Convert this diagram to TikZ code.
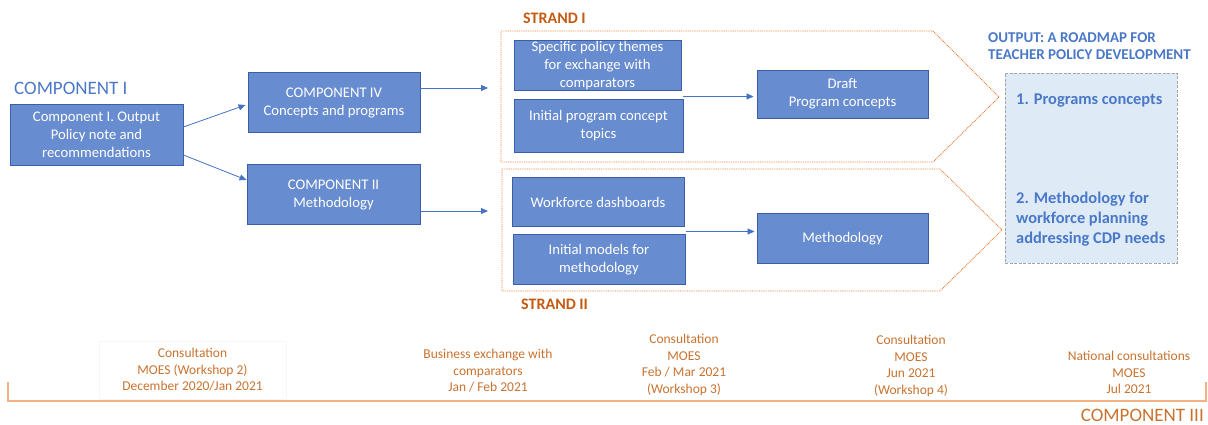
\documentclass[tikz,border=0pt]{standalone}
\usepackage{fontspec}
\setmainfont{Carlito}
\usetikzlibrary{arrows.meta,calc}
\definecolor{boxfill}{HTML}{688CD0}
\definecolor{boxline}{HTML}{3A5FA8}
\definecolor{arrowblue}{HTML}{4472C4}
\definecolor{titleblue}{HTML}{4A78C8}
\definecolor{strandorange}{HTML}{C55A11}
\definecolor{dotorange}{HTML}{ED7D31}
\definecolor{lineorange}{HTML}{F4B183}
\definecolor{timeorange}{HTML}{C8722F}
\definecolor{outfill}{HTML}{DEEBF7}
\definecolor{outline}{HTML}{A5A5A5}
\tikzset{
  x=1pt, y=-1pt,
  bluebox/.style={draw=boxline, line width=0.9pt, fill=boxfill, text=white,
    align=center, inner sep=0pt,
    font=\fontsize{14.7}{18}\selectfont},
  flow/.style={draw=arrowblue, line width=0.8pt,
    -{Triangle[length=7pt,width=6pt]}},
  strandframe/.style={draw=dotorange, line width=0.9pt,
    dash pattern=on 0.9pt off 0.9pt},
  strandlabel/.style={text=strandorange, anchor=west, inner sep=0pt,
    font=\fontsize{16}{19}\selectfont\bfseries},
  timetext/.style={text=timeorange, align=center, inner sep=0pt,
    font=\fontsize{13.5}{16.5}\selectfont},
  bigblue/.style={text=titleblue, inner sep=0pt,
    font=\fontsize{19}{22}\selectfont},
  outtext/.style={text=titleblue, anchor=west, align=left, inner sep=0pt,
    font=\fontsize{16.4}{20}\selectfont\bfseries},
}
\begin{document}
\begin{tikzpicture}
\useasboundingbox (0,0) rectangle (1208,425);

% ---- left column ----
\node[bigblue, anchor=west] (lblc1) at (14,88) {COMPONENT I};
\node[bluebox, minimum width=173pt, minimum height=61pt] (c1) at (96.5,135)
  {Component I. Output\\Policy note and\\recommendations};
\node[bluebox, minimum width=172pt, minimum height=60pt] (c4) at (334,102.5)
  {COMPONENT IV\\Concepts and programs};
\node[bluebox, minimum width=173pt, minimum height=60pt] (c2) at (333.5,194.5)
  {COMPONENT II\\Methodology};

\draw[flow] ($(c1.east)+(0,-8)$) -- ($(c4.west)+(-2,2.5)$);
\draw[flow] ($(c1.east)+(0,20)$) -- ($(c2.west)+(0,-14.5)$);

% ---- strand frames ----
\draw[strandframe] (501,31) -- (933,31) -- (999,97) -- (933,162) -- (501,162) -- cycle;
\draw[strandframe] (502,169) -- (940,169) -- (1002,230) -- (940,291) -- (502,291) -- cycle;
\node[strandlabel] (lbls1) at (523,18) {STRAND I};
\node[strandlabel] (lbls2) at (521,304) {STRAND II};

\coordinate (s1in) at (488,88);
\coordinate (s2in) at (488,211);
\draw[flow] (c4.east |- s1in) -- (s1in);
\draw[flow] (c2.east |- s2in) -- (s2in);

% ---- strand I ----
\node[bluebox, minimum width=167pt, minimum height=50pt] (s1a) at (597.5,65.5)
  {Specific policy themes\\for exchange with\\comparators};
\node[bluebox, minimum width=169pt, minimum height=53pt] (s1b) at (598.5,126)
  {Initial program concept\\topics};
\node[bluebox, minimum width=171pt, minimum height=48pt] (s1c) at (842.5,94)
  {Draft\\Program concepts};
\coordinate (s1mid) at ($(s1a.south east)!0.5!(s1b.north east)+(1,1.5)$);
\draw[flow] (s1mid) -- ($(s1c.west |- s1mid)+(-3,0)$);

% ---- strand II ----
\node[bluebox, minimum width=172pt, minimum height=49pt] (s2a) at (598,202)
  {Workforce dashboards};
\node[bluebox, minimum width=172pt, minimum height=50pt] (s2b) at (599,259.5)
  {Initial models for\\methodology};
\node[bluebox, minimum width=171pt, minimum height=50pt] (s2c) at (842.5,238.5)
  {Methodology};
\coordinate (s2mid) at ($(s2a.south east)!0.5!(s2b.north east)+(1,1)$);
\draw[flow] (s2mid) -- ($(s2c.west |- s2mid)+(-2,0)$);

% ---- output ----
\node[text=titleblue, anchor=west, align=left, inner sep=0pt,
  font=\fontsize{15}{17}\selectfont\bfseries] (outtitle) at (988,46.5)
  {OUTPUT: A ROADMAP FOR\\TEACHER POLICY DEVELOPMENT};
\node[draw=outline, line width=0.9pt, dash pattern=on 3pt off 1.5pt,
  fill=outfill, minimum width=172pt, minimum height=190pt, inner sep=0pt]
  (outbox) at (1091,168) {};
\node[outtext] (out1) at (1016,100.5) {1. Programs concepts};
\node[outtext] (out2) at (1016,219.5)
  {2. Methodology for\\workforce planning\\addressing CDP needs};

% ---- timeline ----
\draw[lineorange, line width=1.2pt] (8,382) -- (8,401) -- (1206,401) -- (1206,382);
\node[timetext, draw=black!3, line width=0.5pt, minimum width=187pt,
  minimum height=58pt] (t1) at (192.5,370)
  {Consultation\\MOES (Workshop 2)\\December 2020/Jan 2021};
\node[timetext] (t2) at (488,371)
  {Business exchange with\\comparators\\Jan / Feb 2021};
\node[timetext] (t3) at (684,365)
  {Consultation\\MOES\\Feb / Mar 2021\\(Workshop 3)};
\node[timetext] (t4) at (911,366)
  {Consultation\\MOES\\Jun 2021\\(Workshop 4)};
\node[timetext] (t5) at (1129,372.5)
  {National consultations\\MOES\\Jul 2021};
\node[bigblue, text=timeorange, anchor=east] (lblc3) at (1204,415) {COMPONENT III};
\end{tikzpicture}
\end{document}
